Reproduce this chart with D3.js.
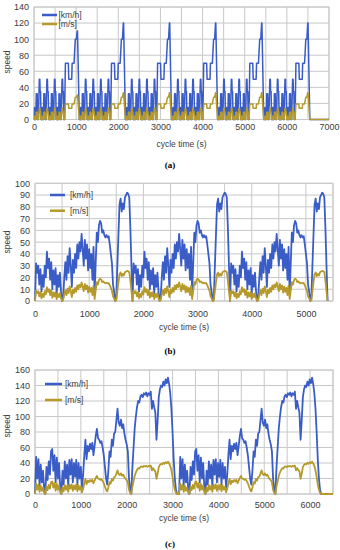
<!DOCTYPE html>
<html><head><meta charset="utf-8">
<script src="https://cdn.jsdelivr.net/npm/d3@7"></script>
<style>html,body{margin:0;padding:0;background:#fff;} svg{display:block;}</style>
</head><body>
<svg id="chart" width="340" height="550"></svg>
<script>
// ================= DATA =================
// Panel (a): urban segment (x4) + extra-urban segment, repeated per cycle
const eceTime  = [0,10,13,21,25,43,54,76,86,104,126,138,145,156,168,180];
const eceSpeed = [0,0,15,15,0,0,32,32,0,0,50,50,35,35,0,0];
const eudcTime  = [0,5,25,95,105,175,185,230,260,285,305,312,355,374];
const eudcSpeed = [0,0,70,70,50,50,70,70,100,100,120,120,0,0];
const cycleStartA = [0,1094,2188,3282,4376,5470];
const cycleTopA   = [110,120,120,120,120,120];
const endTimeA = 7000;
const xTicksA = [0,1000,2000,3000,4000,5000,6000,7000];
const yTicksA = [0,20,40,60,80,100,120,140];

// Panel (b): one cycle sampled every 20 s, repeated three times
const stepB = 20;
const speedB = [0,32,24,30,14,27,8,22,12,30,
                20,42,28,36,18,33,10,26,14,28,
                6,22,12,24,8,0,3,20,33,18,
                38,24,45,30,12,35,24,40,28,48,
                36,50,42,57,44,30,52,36,48,26,
                44,28,40,18,46,6,32,58,50,64,
                68,66,58,60,56,54,56,54,55,48,
                40,32,14,8,0,2,30,56,82,87,
                76,83,78,88,90,92,91,88,62,30,0];
const cycleStartB = [0,1800,3600];
const xTicksB = [0,1000,2000,3000,4000,5000];
const yTicksB = [0,10,20,30,40,50,60,70,80,90,100];

// Panel (c): one cycle sampled every 25 s, repeated twice
const stepC = 25;
const speedC = [0,48,20,45,10,38,15,30,5,0,
                35,18,42,25,55,58,30,50,15,47,
                20,40,8,0,30,12,42,20,38,10,
                44,25,45,15,40,22,44,12,40,20,
                35,8,25,50,70,45,62,55,65,58,
                66,50,62,75,84,72,70,66,68,60,
                50,35,20,12,30,55,48,70,62,78,
                80,95,110,92,88,96,85,90,78,70,
                64,55,20,5,0,35,60,85,100,112,
                120,118,126,128,125,130,128,131,126,130,
                128,132,110,120,112,105,70,95,125,135,
                140,138,145,140,148,143,150,142,130,110,
                80,45,20,5,0,0];
const cycleStartC = [0,3143];
const endTimeC = 6500;
const xTicksC = [0,1000,2000,3000,4000,5000,6000];
const yTicksC = [0,20,40,60,80,100,120,140,160];

const seriesNames = ["[km/h]","[m/s]"];
const kmhPerMs = 3.6;

// ================= BUILD SERIES =================
function buildA(){
  const pts=[];
  const eceLen = eceTime[eceTime.length-1];
  cycleStartA.forEach((s,i)=>{
    for(let k=0;k<4;k++) eceTime.forEach((t,j)=>pts.push([s+k*eceLen+t, eceSpeed[j]]));
    eudcTime.forEach((t,j)=>pts.push([s+4*eceLen+t, eudcSpeed[j]===120?cycleTopA[i]:eudcSpeed[j]]));
  });
  pts.push([endTimeA,0]);
  return pts;
}
function buildSampled(speeds, step, starts, endT){
  const pts=[];
  starts.forEach(s=>speeds.forEach((v,j)=>pts.push([s+j*step, v])));
  if(endT!==undefined) pts.push([endT,0]);
  return pts;
}
const dataA = buildA();
const dataB = buildSampled(speedB, stepB, cycleStartB);
const dataC = buildSampled(speedC, stepC, cycleStartC, endTimeC);

// ================= DRAW =================
const svg = d3.select("#chart");
svg.append("rect").attr("width",340).attr("height",550).attr("fill","#fff");
const FONT = "'Liberation Sans', Arial, sans-serif";
const TXT = "#3c3c3c";
const GRID = "#c8c8c8";
const BLUE = "#3a5cc6";
const GOLD = "#b59a2b";

function panel(o){
  const g = svg.append("g");
  const x = d3.scaleLinear().domain([0,o.xMax]).range([o.left,o.right]);
  const y = d3.scaleLinear().domain([0,o.yMax]).range([o.bottom,o.top]);
  // grid
  g.selectAll(".vg").data(d3.range(0,o.xMax+1,o.xGrid)).join("line")
    .attr("x1",d=>x(d)).attr("x2",d=>x(d)).attr("y1",o.top).attr("y2",o.bottom)
    .attr("stroke",GRID).attr("stroke-width",1);
  g.selectAll(".hg").data(o.yTicks).join("line")
    .attr("x1",o.left).attr("x2",o.right).attr("y1",d=>y(d)).attr("y2",d=>y(d))
    .attr("stroke",GRID).attr("stroke-width",1);
  g.append("rect").attr("x",o.left).attr("y",o.top).attr("width",o.right-o.left).attr("height",o.bottom-o.top)
    .attr("fill","none").attr("stroke",GRID).attr("stroke-width",1);
  // axes labels via d3 axes (no lines)
  const ax = g.append("g").attr("transform",`translate(0,${o.bottom})`)
    .call(d3.axisBottom(x).tickValues(o.xTicks).tickSize(0).tickPadding(o.xPad).tickFormat(d3.format("d")));
  const ay = g.append("g").attr("transform",`translate(${o.left},0)`)
    .call(d3.axisLeft(y).tickValues(o.yTicks).tickSize(0).tickPadding(o.yPad).tickFormat(d3.format("d")));
  [ax,ay].forEach(a=>{a.select(".domain").remove();
    a.selectAll("text").attr("font-family",FONT).attr("font-size",9).attr("fill",TXT);});
  // lines
  const line = d3.line().x(d=>x(d[0])).y(d=>y(d[1]));
  g.append("path").datum(o.data).attr("d",line).attr("fill","none")
    .attr("stroke",BLUE).attr("stroke-width",o.lw).attr("stroke-linejoin","round");
  g.append("path").datum(o.data.map(d=>[d[0],d[1]/kmhPerMs])).attr("d",line).attr("fill","none")
    .attr("stroke",GOLD).attr("stroke-width",o.lw).attr("stroke-linejoin","round");
  // titles
  g.append("text").attr("x",(o.left+o.right)/2).attr("y",o.titleY).attr("text-anchor","middle")
    .attr("font-family",FONT).attr("font-size",8.5).attr("fill",TXT).text("cycle time (s)");
  g.append("text").attr("transform",`translate(${o.speedX},${o.speedY}) rotate(-90)`).attr("text-anchor","middle")
    .attr("dy","0.35em").attr("font-family",FONT).attr("font-size",8.5).attr("fill",TXT).text("speed");
  g.append("text").attr("x",170).attr("y",o.letterY).attr("text-anchor","middle")
    .attr("font-family","'Liberation Serif', 'Times New Roman', serif").attr("font-weight","bold")
    .attr("font-size",9).attr("fill","#000").text(o.letter);
  // legend
  [BLUE,GOLD].forEach((c,i)=>{
    const ly = o.legY[i];
    g.append("line").attr("x1",o.legX1).attr("x2",o.legX2).attr("y1",ly).attr("y2",ly)
      .attr("stroke",c).attr("stroke-width",2.5);
    g.append("text").attr("x",o.legTX).attr("y",ly).attr("dy","0.35em")
      .attr("font-family",FONT).attr("font-size",8.5).attr("fill",TXT).text(seriesNames[i]);
  });
}

panel({left:34,right:329,top:7,bottom:119.5,xMax:7000,yMax:140,xGrid:500,
  xTicks:xTicksA,yTicks:yTicksA,data:dataA,lw:1.5,xPad:4,yPad:5,
  titleY:147,speedX:7,speedY:62,letter:"(a)",letterY:168,
  legX1:42,legX2:57,legTX:58.5,legY:[15,24]});
panel({left:35,right:333,top:183.3,bottom:301,xMax:5500,yMax:100,xGrid:500,
  xTicks:xTicksB,yTicks:yTicksB,data:dataB,lw:1.8,xPad:10,yPad:5,
  titleY:329.5,speedX:7,speedY:242,letter:"(b)",letterY:354,
  legX1:50,legX2:65,legTX:70,legY:[195,210.7]});
panel({left:35,right:333,top:370,bottom:494,xMax:6500,yMax:160,xGrid:500,
  xTicks:xTicksC,yTicks:yTicksC,data:dataC,lw:1.8,xPad:8,yPad:5,
  titleY:521,speedX:7,speedY:426,letter:"(c)",letterY:547,
  legX1:45,legX2:62,legTX:65,legY:[384,400]});
</script>
</body></html>
